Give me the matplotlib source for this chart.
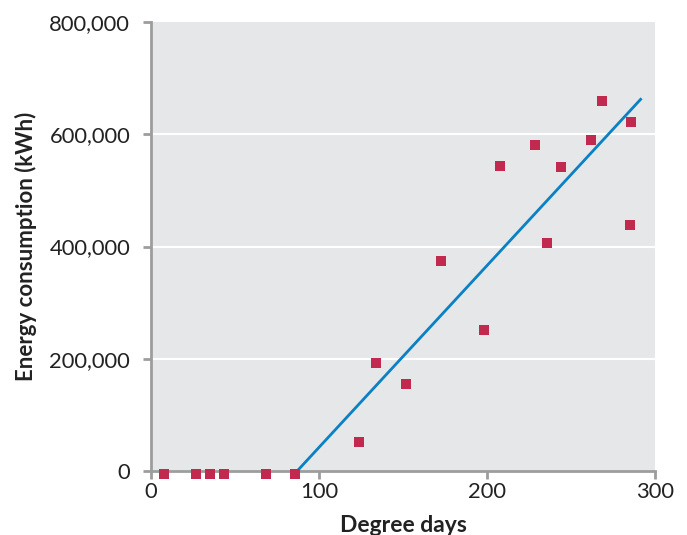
import matplotlib.pyplot as plt
from matplotlib.ticker import FuncFormatter

# Degree days vs energy consumption
degree_days = [7.9, 26.9, 35.1, 43.6, 68.5, 85.5,
               124, 134, 152, 172.8, 198.4, 208, 228.8, 235.9,
               244.2, 262.1, 268.6, 285.9, 285.3]
energy_kwh = [-4500, -4500, -4500, -4500, -4500, -4500,
              52000, 192000, 155000, 375000, 252000, 543000, 580000, 406000,
              542000, 589000, 660000, 621000, 438000]

# fitted line end points
fit_x = [87, 292]
fit_y = [0, 664000]

x_ticks = [0, 100, 200, 300]
y_ticks = [0, 200000, 400000, 600000, 800000]

plt.rcParams['font.family'] = ['Lato', 'DejaVu Sans']

fig = plt.figure(figsize=(6.87, 5.35), dpi=100)
ax = fig.add_axes([0.2198, 0.1196, 0.7336, 0.8393])
ax.set_facecolor('#e6e7e9')

ax.set_xlim(0, 300)
ax.set_ylim(0, 800000)
ax.set_xticks(x_ticks)
ax.set_yticks(y_ticks)
ax.yaxis.set_major_formatter(FuncFormatter(lambda v, p: f'{int(v):,}'))

for y in y_ticks[1:-1]:
    ax.axhline(y, color='white', lw=1.5, zorder=1)

ax.plot(fit_x, fit_y, color='#0a80c5', lw=2, zorder=3, solid_capstyle='butt')
ax.plot(degree_days, energy_kwh, 's', color='#c1294f', markersize=6.5,
        markeredgewidth=0, zorder=5, clip_on=False)

for side in ('top', 'right'):
    ax.spines[side].set_visible(False)
for side in ('left', 'bottom'):
    ax.spines[side].set_color('#9d9d9d')
    ax.spines[side].set_linewidth(2)
    ax.spines[side].set_zorder(4)

ax.tick_params(axis='both', colors='#9d9d9d', width=2, length=6,
               labelcolor='#222222', labelsize=15.8)
ax.tick_params(axis='x', pad=2)
ax.tick_params(axis='y', pad=9)

ax.set_xlabel('Degree days', fontsize=16.5, fontweight='bold', color='#222222',
              labelpad=9)
ax.set_ylabel('Energy consumption (kWh)', fontsize=16, fontweight='bold',
              color='#222222', labelpad=9)

fig.savefig('out.png', dpi=100)
